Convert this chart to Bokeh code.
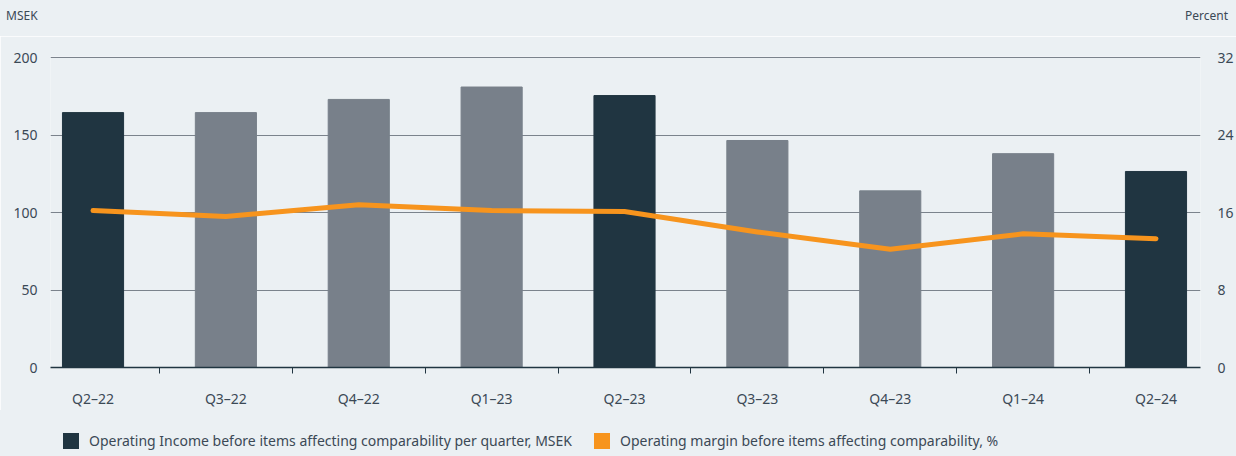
from bokeh.plotting import figure
from bokeh.models import (Range1d, LinearAxis, FixedTicker, ColumnDataSource, Div)
from bokeh.layouts import column
from bokeh.embed import file_html
from bokeh.resources import INLINE

# ---- data ----
quarters = ["Q2\u201322", "Q3\u201322", "Q4\u201322", "Q1\u201323", "Q2\u201323",
            "Q3\u201323", "Q4\u201323", "Q1\u201324", "Q2\u201324"]
operating_income = [164.5, 164.5, 173, 181, 175.5, 146.5, 114, 138, 126.5]
operating_margin = [16.2, 15.6, 16.8, 16.2, 16.1, 14.0, 12.2, 13.8, 13.3]
left_ticks = [0, 50, 100, 150, 200]
right_ticks = [0, 8, 16, 24, 32]
left_unit = "MSEK"
right_unit = "Percent"
series_names = ["Operating Income before items affecting comparability per quarter, MSEK",
                "Operating margin before items affecting comparability, %"]

BG = "#ebf0f3"
DARK = "#203541"
GREY = "#78808a"
ORANGE = "#f7941d"
TXT = "#3b4956"
GRID = "#7b838c"
FONT = "Noto Sans"

W = 1236
HEAD_H = 36
FIG_BOTTOM = 410
LEG_H = 456 - FIG_BOTTOM

xs = list(range(len(quarters)))
colors = [DARK if q.startswith("Q2") else GREY for q in quarters]
src = ColumnDataSource(dict(x=xs, inc=operating_income, pct=operating_margin, color=colors))

YTOP = 200.7
p = figure(width=W, height=FIG_BOTTOM - HEAD_H, output_backend="svg", toolbar_location=None,
           x_range=Range1d(-0.32, 8.335), y_range=Range1d(0, YTOP),
           min_border_left=50, min_border_right=35, min_border_top=56 - HEAD_H,
           min_border_bottom=FIG_BOTTOM - 367, margin=0,
           background_fill_color=BG, border_fill_color=BG, outline_line_color=None)
p.extra_y_ranges = {"pct": Range1d(0, 32 * YTOP / 200)}

p.vbar(x="x", top="inc", width=0.46, color="color", source=src)
p.line(x="x", y="pct", source=src, line_color=ORANGE, line_width=5,
       line_cap="round", line_join="round", y_range_name="pct")

# axes
xa = p.xaxis[0]
xa.ticker = FixedTicker(ticks=xs, minor_ticks=[i + 0.5 for i in xs[:-1]])
xa.major_label_overrides = {i: q for i, q in zip(xs, quarters)}
xa.major_tick_out = 0
xa.major_tick_in = 0
xa.minor_tick_out = 6
xa.minor_tick_in = 0
xa.minor_tick_line_color = DARK
xa.axis_line_color = DARK
xa.axis_line_width = 1.5
xa.major_label_standoff = 15
xa.major_label_text_font = FONT
xa.major_label_text_font_size = "14px"
xa.major_label_text_color = TXT

ya = p.yaxis[0]
ya.ticker = FixedTicker(ticks=left_ticks)
ya.axis_line_color = None
ya.major_tick_line_color = None
ya.minor_tick_line_color = None
ya.major_label_standoff = 7
ya.major_label_text_font = FONT
ya.major_label_text_font_size = "14px"
ya.major_label_text_color = TXT

ra = LinearAxis(y_range_name="pct", ticker=FixedTicker(ticks=right_ticks))
ra.axis_line_color = None
ra.major_tick_line_color = None
ra.minor_tick_line_color = None
ra.major_label_standoff = 11
ra.major_label_text_font = FONT
ra.major_label_text_font_size = "14px"
ra.major_label_text_color = TXT
p.add_layout(ra, "right")

p.xgrid.grid_line_color = None
p.ygrid.ticker = FixedTicker(ticks=left_ticks)
p.ygrid.grid_line_color = GRID
p.ygrid.grid_line_width = 1

head = Div(
    text=(f'<div style="display:flex;justify-content:space-between;box-sizing:border-box;'
          f'width:{W}px;padding:8px 8px 0 6px;font-family:\'{FONT}\';font-size:12px;'
          f'line-height:16px;color:{TXT}"><span>{left_unit}</span>'
          f'<span>{right_unit}</span></div>'),
    width=W, height=HEAD_H, margin=0, styles={"background-color": BG})

def item(color, label, gap):
    return (f'<span style="display:inline-flex;align-items:center;margin-right:{gap}px">'
            f'<span style="display:inline-block;width:16px;height:16px;background:{color};'
            f'margin-right:10px"></span><span>{label}</span></span>')

leg = Div(
    text=(f'<div style="display:flex;align-items:center;box-sizing:border-box;width:{W}px;'
          f'height:16px;margin-top:{433 - FIG_BOTTOM}px;padding-left:63px;'
          f'font-family:\'{FONT}\';font-size:14px;line-height:16px;color:{TXT};'
          f'white-space:nowrap">'
          + item(DARK, series_names[0], 22) + item(ORANGE, series_names[1], 0)
          + '</div>'),
    width=W, height=LEG_H, margin=0, styles={"background-color": BG})

layout = column(head, p, leg, spacing=0, margin=0)
open("out.html", "w").write(file_html(layout, INLINE))
